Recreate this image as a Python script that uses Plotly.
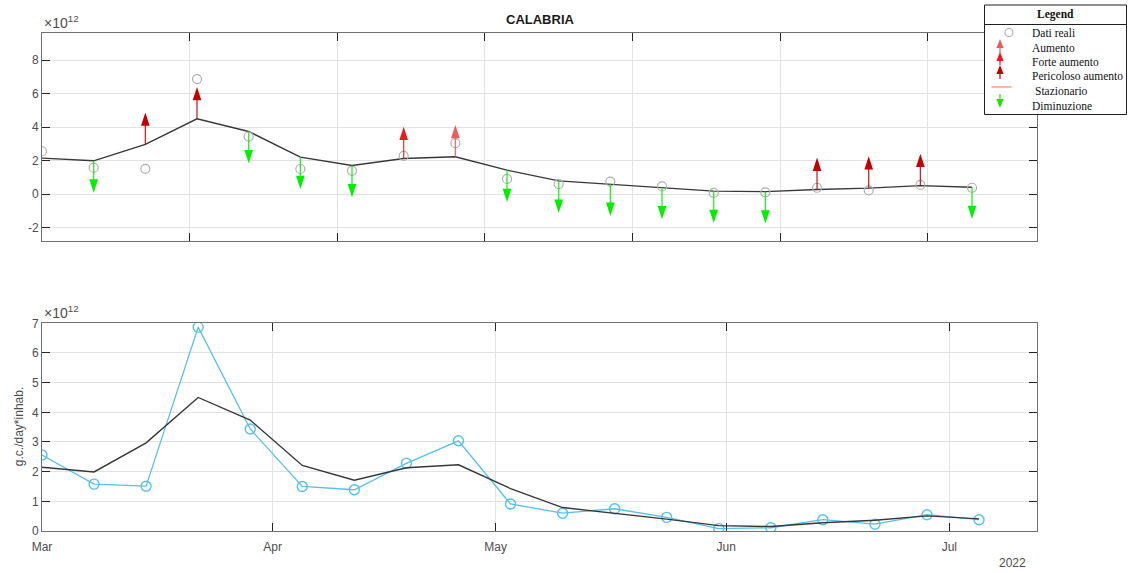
import plotly.graph_objects as go

# ---------------------------------------------------------------- data
# Weekly sampling dates (bottom panel) and day offsets from 1 March (top panel)
sample_dates = ["2022-03-01", "2022-03-08", "2022-03-15", "2022-03-22", "2022-03-29",
                "2022-04-05", "2022-04-12", "2022-04-19", "2022-04-26", "2022-05-03",
                "2022-05-10", "2022-05-17", "2022-05-24", "2022-05-31", "2022-06-07",
                "2022-06-14", "2022-06-21", "2022-06-28", "2022-07-05"]
day_offsets = [0, 7, 14, 21, 28, 35, 42, 49, 56, 63, 70, 77, 84, 91, 98, 105, 112, 119, 126]

# Measured load, in units of 10^12 g.c./day*inhab.
dati_reali = [2.56, 1.58, 1.51, 6.87, 3.44, 1.50, 1.39, 2.28, 3.04, 0.91,
              0.60, 0.75, 0.46, 0.08, 0.11, 0.38, 0.23, 0.55, 0.38]
# Smoothed trend, same units
trend = [2.15, 1.99, 2.97, 4.50, 3.74, 2.21, 1.71, 2.13, 2.23, 1.43,
         0.79, 0.60, 0.40, 0.18, 0.15, 0.28, 0.36, 0.51, 0.41]
# Weekly classification
trend_class = ["Stazionario", "Diminuzione", "Pericoloso aumento", "Pericoloso aumento",
               "Diminuzione", "Diminuzione", "Diminuzione", "Forte aumento", "Aumento",
               "Diminuzione", "Diminuzione", "Diminuzione", "Diminuzione", "Diminuzione",
               "Diminuzione", "Pericoloso aumento", "Pericoloso aumento",
               "Pericoloso aumento", "Diminuzione"]

month_ticks = ["2022-03-01", "2022-04-01", "2022-05-01", "2022-06-01", "2022-07-01"]
month_labels = ["Mar", "Apr", "May", "Jun", "Jul"]
top_xticks = [20, 40, 60, 80, 100, 120]
top_yticks = [-2, 0, 2, 4, 6, 8]
bottom_yticks = [0, 1, 2, 3, 4, 5, 6, 7]

legend_items = ["Dati reali", "Aumento", "Forte aumento", "Pericoloso aumento",
                "Stazionario", "Diminuzione"]

# ---------------------------------------------------------------- styles
CLASS_COLOR = {
    "Aumento": "#f05a5a",
    "Forte aumento": "#e81c1c",
    "Pericoloso aumento": "#c40000",
    "Stazionario": "#ffa27f",
    "Diminuzione": "#00f000",
}
ARROW_LEN = 1.9          # arrow length in the top panel (data units)
HEAD_SIZE = 14           # arrow-head marker size (px)
GREY_CIRCLE = "#b0b0b0"
TREND_COLOR = "#383838"
BLUE = "#56c1ee"
AXIS_FONT = dict(family="Liberation Sans, Arial, sans-serif", size=12, color="#4d4d4d")
SERIF = "Liberation Serif, Times New Roman, serif"

W, H = 1128, 573
L, R, T, B = 42, 91, 33, 42
PW, PH = W - L - R, H - T - B


def px_x(px):
    return (px - L) / PW


def px_y(py):
    return (H - B - py) / PH


fig = go.Figure()

# ---------------------------------------------------------------- top panel
fig.add_trace(go.Scatter(x=day_offsets, y=trend, mode="lines",
                         line=dict(color=TREND_COLOR, width=1.4),
                         xaxis="x", yaxis="y", showlegend=False, hoverinfo="skip"))
fig.add_trace(go.Scatter(x=day_offsets, y=dati_reali, mode="markers",
                         marker=dict(symbol="circle-open", size=9, color=GREY_CIRCLE,
                                     line=dict(color=GREY_CIRCLE, width=1.2)),
                         xaxis="x", yaxis="y", showlegend=False))

# arrows: one shaft trace and one head trace per class
for cls, color in CLASS_COLOR.items():
    if cls == "Stazionario":
        continue
    sign = -1 if cls == "Diminuzione" else 1
    sx, sy, hx, hy = [], [], [], []
    for d, t, c in zip(day_offsets, trend, trend_class):
        if c != cls:
            continue
        tip = t + sign * ARROW_LEN
        sx += [d, d, None]
        sy += [t, tip - sign * 0.3, None]
        hx.append(d)
        hy.append(tip)
    if not hx:
        continue
    fig.add_trace(go.Scatter(x=sx, y=sy, mode="lines", line=dict(color=color, width=1.3),
                             opacity=0.85,
                             xaxis="x", yaxis="y", showlegend=False, hoverinfo="skip"))
    fig.add_trace(go.Scatter(x=hx, y=hy, mode="markers",
                             marker=dict(symbol="arrow", size=HEAD_SIZE, color=color,
                                         angle=0 if sign > 0 else 180,
                                         line=dict(width=0)),
                             xaxis="x", yaxis="y", showlegend=False, hoverinfo="skip"))

# ---------------------------------------------------------------- bottom panel
fig.add_trace(go.Scatter(x=sample_dates, y=dati_reali, mode="lines+markers",
                         line=dict(color=BLUE, width=1.3),
                         marker=dict(symbol="circle-open", size=10, color=BLUE,
                                     line=dict(color=BLUE, width=1.4)),
                         xaxis="x2", yaxis="y2", showlegend=False))
fig.add_trace(go.Scatter(x=sample_dates, y=trend, mode="lines",
                         line=dict(color=TREND_COLOR, width=1.4),
                         xaxis="x2", yaxis="y2", showlegend=False, hoverinfo="skip"))

# ---------------------------------------------------------------- axes
common = dict(showline=True, linecolor="#707070", linewidth=1, mirror="ticks",
              ticks="inside", ticklen=8, tickcolor="#262626", tickwidth=1,
              showgrid=True, gridcolor="#e3e3e3", gridwidth=1, zeroline=False,
              tickfont=AXIS_FONT)

top_dom = [px_y(240.7), 1.0]
bot_dom = [0.0, px_y(323.3)]

fig.update_layout(
    width=W, height=H,
    margin=dict(l=L, r=R, t=T, b=B, pad=0),
    paper_bgcolor="white", plot_bgcolor="white",
    showlegend=False,
    xaxis=dict(common, domain=[0, 1], anchor="y", range=[0, 134.8],
               tickvals=top_xticks, showticklabels=False),
    yaxis=dict(common, domain=top_dom, anchor="x", range=[-2.78, 9.62],
               tickvals=top_yticks, ticktext=[str(v) for v in top_yticks]),
    xaxis2=dict(common, domain=[0, 1], anchor="y2", type="date",
                range=["2022-03-01", "2022-07-12 19:00"],
                tickvals=month_ticks, ticktext=month_labels, ticklabelstandoff=5),
    yaxis2=dict(common, domain=bot_dom, anchor="x2", range=[0, 7],
                tickvals=bottom_yticks, ticktext=[str(v) for v in bottom_yticks]),
)

# ---------------------------------------------------------------- texts
annotations = [
    dict(text="<b>CALABRIA</b>", x=0.5, y=px_y(20), xref="paper", yref="paper",
         showarrow=False, xanchor="center", yanchor="middle",
         font=dict(family="Liberation Sans, Arial, sans-serif", size=13, color="#1a1a1a")),
    dict(text="×10<sup>12</sup>", x=0, y=1, xref="x domain", yref="y domain",
         xanchor="left", yanchor="bottom", showarrow=False, yshift=0,
         font=dict(AXIS_FONT, size=14)),
    dict(text="×10<sup>12</sup>", x=0, y=1, xref="x2 domain", yref="y2 domain",
         xanchor="left", yanchor="bottom", showarrow=False, yshift=0,
         font=dict(AXIS_FONT, size=14)),
    dict(text="g.c./day*inhab.", x=px_x(19), y=(bot_dom[0] + bot_dom[1]) / 2,
         xref="paper", yref="paper", textangle=-90, showarrow=False,
         xanchor="center", yanchor="middle", font=AXIS_FONT),
    dict(text="2022", x=px_x(1012), y=px_y(563), xref="paper", yref="paper",
         showarrow=False, xanchor="center", yanchor="middle", font=AXIS_FONT),
]

# ---------------------------------------------------------------- legend box
shapes = []
bx0, bx1, by0, by1 = 984.5, 1126.5, 5, 114.5
shapes.append(dict(type="rect", xref="paper", yref="paper",
                   x0=px_x(bx0), x1=px_x(bx1), y0=px_y(by1), y1=px_y(by0),
                   line=dict(color="#202020", width=1), fillcolor="white", layer="above"))
shapes.append(dict(type="line", xref="paper", yref="paper",
                   x0=px_x(bx0), x1=px_x(bx1), y0=px_y(24.5), y1=px_y(24.5),
                   line=dict(color="#202020", width=1), layer="above"))
annotations.append(dict(text="<b>Legend</b>", x=px_x(1055.5), y=px_y(14.5),
                        xref="paper", yref="paper", showarrow=False,
                        xanchor="center", yanchor="middle",
                        font=dict(family=SERIF, size=11.5, color="#111111")))

row_y = [32.7, 47.5, 62, 76.5, 90.5, 105.5]
text_x = [1030, 1030, 1030, 1030, 1033, 1030]
for name, yy, xx in zip(legend_items, row_y, text_x):
    annotations.append(dict(text=name, x=px_x(xx), y=px_y(yy), xref="paper", yref="paper",
                            showarrow=False, xanchor="left", yanchor="middle",
                            font=dict(family=SERIF, size=11.5, color="#111111")))


def legend_arrow(x_px, tip_px, tail_px, color):
    """Small arrow glyph for the legend: a shaft plus a triangular head (pixel units)."""
    up = tail_px > tip_px
    length = abs(tail_px - tip_px)
    d = -1 if up else 1          # pixel-mode y grows upward
    shaft = dict(type="line", xref="paper", yref="paper",
                 xsizemode="pixel", ysizemode="pixel",
                 xanchor=px_x(x_px), yanchor=px_y(tip_px),
                 x0=0, x1=0, y0=d * 4, y1=d * length,
                 line=dict(color=color, width=1.2), layer="above")
    head = dict(type="path", xref="paper", yref="paper",
                xsizemode="pixel", ysizemode="pixel",
                xanchor=px_x(x_px), yanchor=px_y(tip_px),
                path=f"M0,0 L-3.6,{d * 9} L3.6,{d * 9} Z",
                fillcolor=color, line=dict(width=0), layer="above")
    return [shaft, head]


# legend symbols
shapes.append(dict(type="circle", xref="paper", yref="paper",
                   xsizemode="pixel", ysizemode="pixel",
                   xanchor=px_x(1009), yanchor=px_y(32.5),
                   x0=-4, x1=4, y0=-4, y1=4,
                   line=dict(color=GREY_CIRCLE, width=1.2), layer="above"))
for name, tip, tail in [("Aumento", 39, 53), ("Forte aumento", 52, 65),
                        ("Pericoloso aumento", 65, 79)]:
    shapes += legend_arrow(1000, tip, tail, CLASS_COLOR[name])
shapes.append(dict(type="line", xref="paper", yref="paper",
                   x0=px_x(991.5), x1=px_x(1011.5), y0=px_y(87), y1=px_y(87),
                   line=dict(color=CLASS_COLOR["Stazionario"], width=1.5), layer="above"))
shapes += legend_arrow(1000, 108, 94, CLASS_COLOR["Diminuzione"])

fig.update_layout(annotations=annotations, shapes=shapes)

fig.write_html("out.html", config={"displayModeBar": False})
